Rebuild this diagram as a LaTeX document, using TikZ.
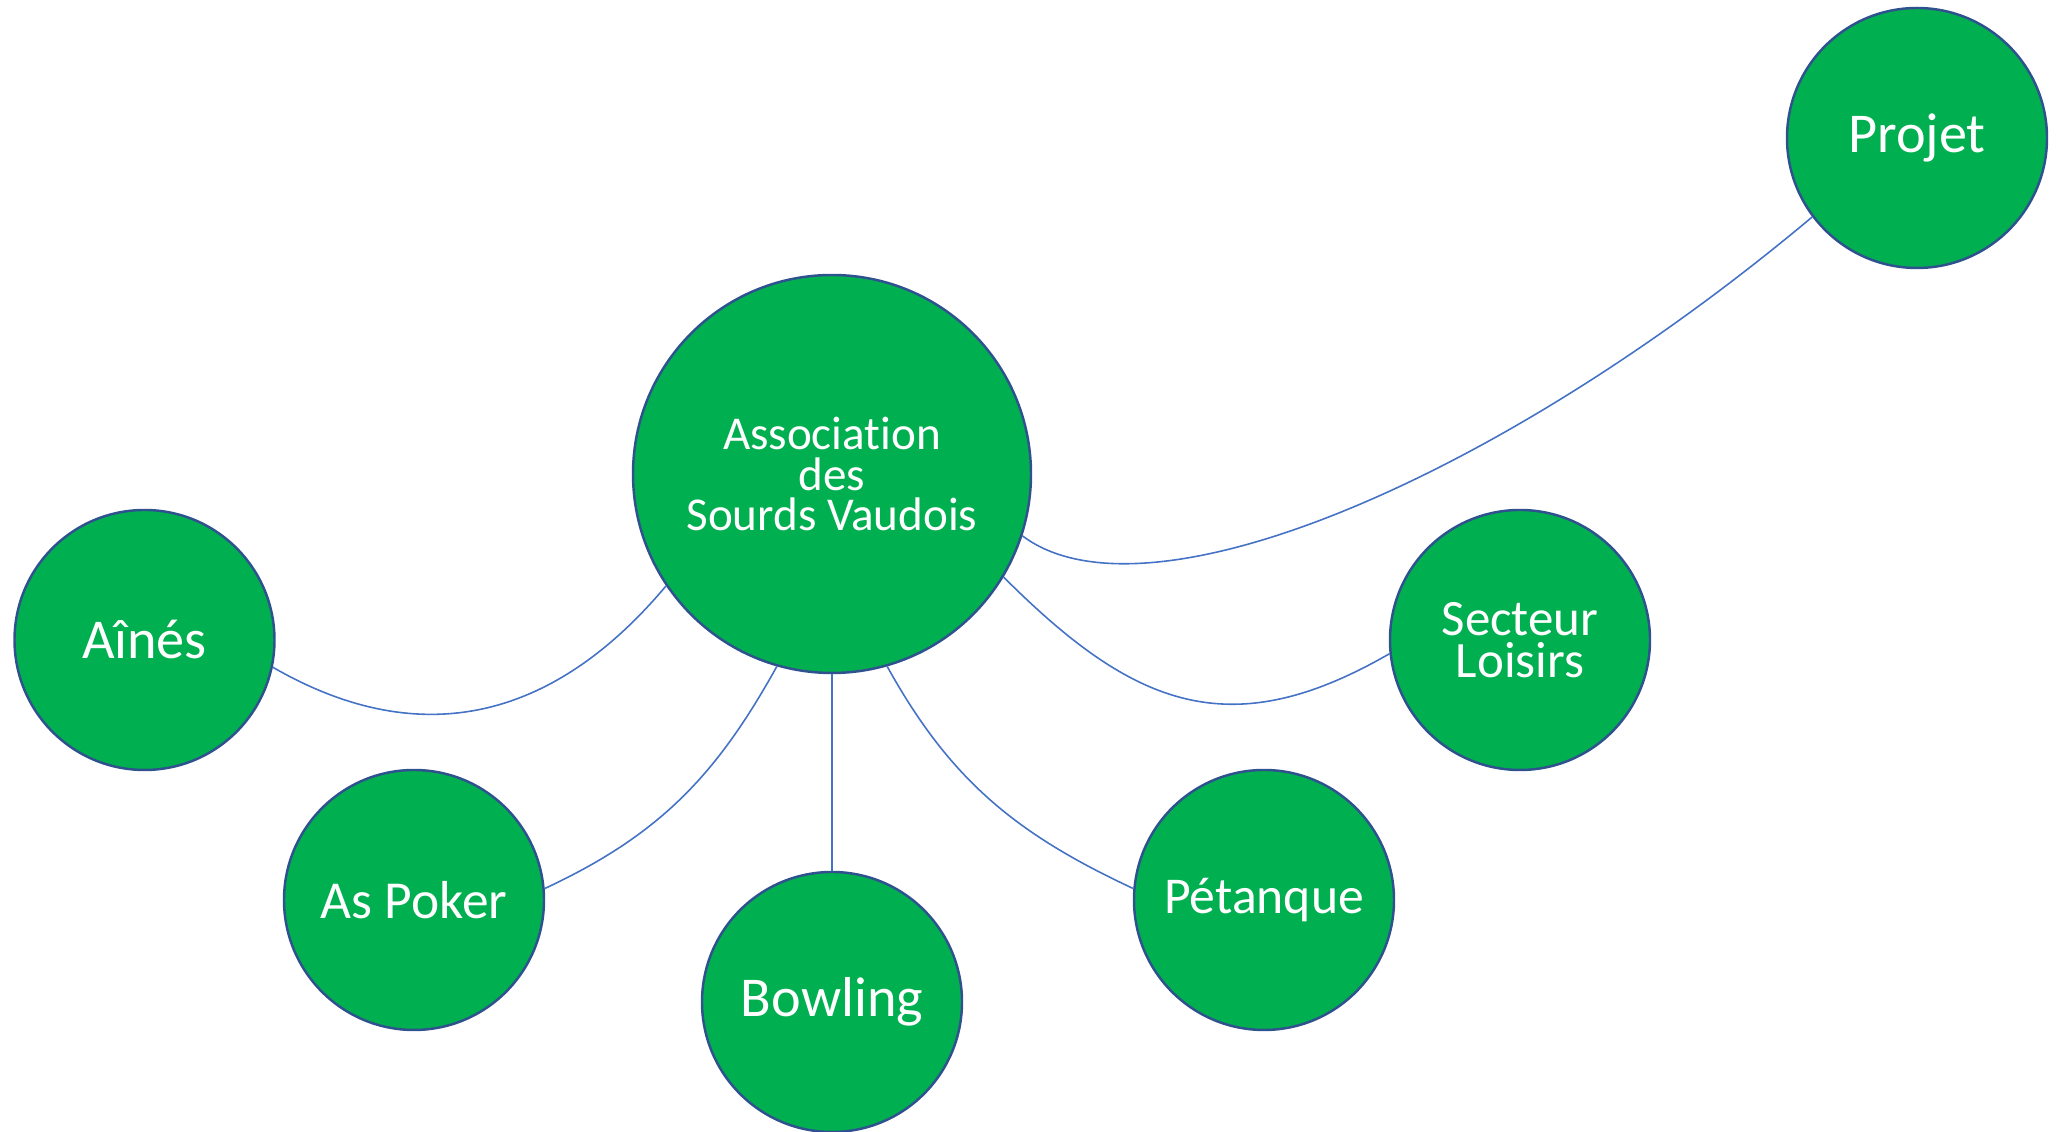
\documentclass[tikz,border=0pt]{standalone}
\usepackage{fontspec}
\setmainfont{Carlito}[Ligatures={NoCommon,NoContextual}, RawFeature={-liga;-clig;-calt}]
\usepackage{xcolor}
\usepackage{tikz}
\definecolor{bubblegreen}{HTML}{00B050}
\definecolor{bubbleedge}{HTML}{2F528F}
\definecolor{linkblue}{HTML}{4472C4}

\begin{document}
\begin{tikzpicture}[
        bubble/.style={circle, draw=bubbleedge, line width=0.7pt, fill=bubblegreen, text=white,
            minimum size=2.6cm, inner sep=0pt, align=center, font=\fontsize{16}{16}\selectfont},
        link/.style={draw=linkblue, line width=0.45pt}]
        \useasboundingbox (0,0) rectangle (20.6,11.32);

        \node[bubble, minimum size=3.98cm, font=\fontsize{13.4}{11.5}\selectfont] (asv) at (8.32,6.58) {Association\\des\\Sourds Vaudois};
        \node[bubble] (aines) at (1.445,4.92) {Aînés};
        \node[bubble, font=\fontsize{15.2}{15}\selectfont] (poker) at (4.14,2.32) {As Poker};
        \node[bubble] (bowling) at (8.32,1.30) {Bowling};
        \node[bubble, font=\fontsize{14.7}{15}\selectfont] (petanque) at (12.64,2.32) {Pétanque};
        \node[bubble, font=\fontsize{14.5}{12}\selectfont] (loisirs) at (15.20,4.92) {Secteur\\Loisirs};
        \node[bubble] (projet) at (19.17,9.94) {Projet};

        \draw[link] (asv.214) to[out=230, in=-30, looseness=1.1] (aines.-12);
        \draw[link] (asv.254.6) to[out=241, in=25] (poker.5);
        \draw[link] (asv.south) -- (bowling.north);
        \draw[link] (asv.-74.6) to[out=-61, in=155] (petanque.175);
        \draw[link] (asv.-31.5) to[out=-45, in=210, looseness=1.2] (loisirs.186);
        \draw[link] (asv.-18) .. controls +(-37:1.55) and +(220:4.09) .. (projet.217);
\end{tikzpicture}
\end{document}
